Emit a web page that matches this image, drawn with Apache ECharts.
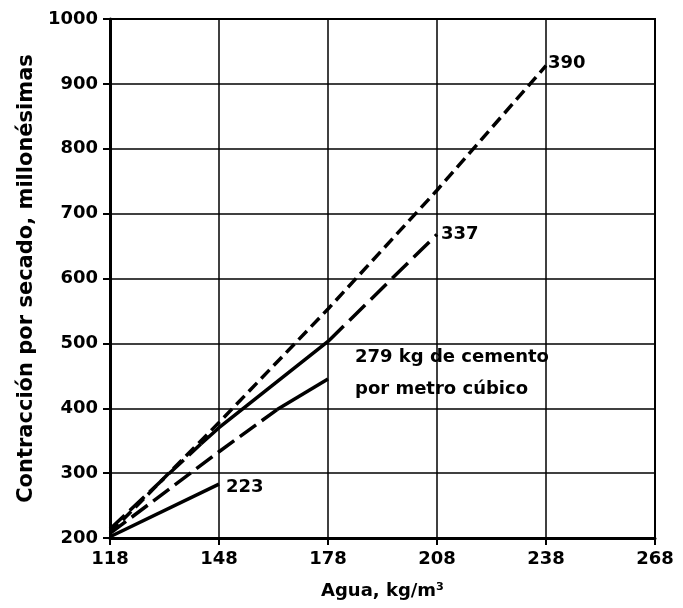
<!DOCTYPE html>
<html>
<head>
<meta charset="utf-8">
<script src="https://cdn.jsdelivr.net/npm/echarts@6/dist/echarts.min.js"></script>
<style>html,body{margin:0;padding:0;background:#fff}#c{width:683px;height:608px}</style>
</head>
<body>
<div id="c"></div>
<script>
const xTicks = [118, 148, 178, 208, 238, 268];
const yMin = 200, yMax = 1000, yStep = 100;

const line223 = [[118, 202], [148, 283]];
const line279Dashed = [[118, 207], [148, 333], [164, 398]];
const line279Solid = [[164, 398], [178, 445]];
const line337DashedLow = [[118, 214], [143, 345]];
const line337Solid = [[143, 345], [148, 370], [178, 503]];
const line337DashedHigh = [[178, 503], [208, 668]];
const line390 = [[118, 208], [148, 378], [178, 553], [208, 736], [238, 928]];

const labels = {
  l223: '223',
  l279: '279 kg de cemento\npor metro cúbico',
  l337: '337',
  l390: '390'
};

const FONT = 'DejaVu Sans';
const txt = { fontFamily: FONT, fontWeight: 'bold', fontSize: 18, color: '#000' };

function ser(data, type, label, offset) {
  const s = {
    type: 'line', data: data, showSymbol: false, symbol: 'none', silent: true,
    lineStyle: { color: '#000', width: 3.5, type: type, cap: 'butt' },
    z: 5
  };
  if (label) {
    s.endLabel = Object.assign({ show: true, formatter: label, offset: offset, align: 'left', lineHeight: 32 }, txt);
  }
  return s;
}

const chart = echarts.init(document.getElementById('c'), null, { renderer: 'canvas' });
chart.setOption({
  animation: false,
  backgroundColor: '#fff',
  grid: { left: 110, right: 28, top: 19, bottom: 70, show: true, borderColor: '#000', borderWidth: 2, backgroundColor: 'transparent' },
  xAxis: {
    type: 'value', min: 118, max: 268,
    name: 'Agua, kg/m³', nameLocation: 'middle', nameGap: 44,
    nameTextStyle: { fontFamily: FONT, fontWeight: 'bold', fontSize: 18, color: '#000' },
    axisLine: { show: true, lineStyle: { color: '#000', width: 3 } },
    axisTick: { show: true, length: 7, lineStyle: { color: '#000', width: 2 }, customValues: xTicks },
    axisLabel: Object.assign({ customValues: xTicks, margin: 12, formatter: v => String(v) }, txt),
    splitLine: { show: true, lineStyle: { color: '#000', width: 1.5 } }
  },
  yAxis: {
    type: 'value', min: yMin, max: yMax, interval: yStep,
    name: 'Contracción por secado, millonésimas', nameLocation: 'middle', nameGap: 50,
    nameTextStyle: { fontFamily: FONT, fontWeight: 'bold', fontSize: 21, color: '#000' },
    axisLine: { show: true, lineStyle: { color: '#000', width: 3 } },
    axisTick: { show: true, length: 7, lineStyle: { color: '#000', width: 2 } },
    axisLabel: Object.assign({ margin: 12, formatter: v => String(v) }, txt),
    splitLine: { show: true, lineStyle: { color: '#000', width: 1.5 } }
  },
  series: [
    ser(line223, 'solid', labels.l223, [-1, 3]),
    ser(line279Dashed, [20, 7], null),
    ser(line279Solid, 'solid', labels.l279, [19, -6]),
    ser(line337DashedLow, [20, 7], null),
    ser(line337Solid, 'solid', null),
    ser(line337DashedHigh, [22, 8], labels.l337, [-4, 0]),
    ser(line390, [12, 6], labels.l390, [-6, -2])
  ]
});
</script>
</body>
</html>
